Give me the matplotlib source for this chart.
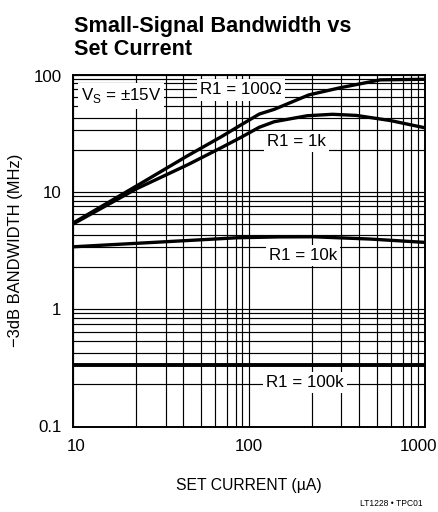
import matplotlib
matplotlib.use('Agg')
import matplotlib.pyplot as plt
from matplotlib import font_manager
from matplotlib.ticker import FixedLocator, FixedFormatter, NullFormatter
import matplotlib.transforms as mtransforms

# ---------------- data ----------------
set_current_r100 = [10, 23, 45, 70, 90, 115, 140, 220, 330, 560, 1000]
bw_r100 = [5.4, 11.2, 20.3, 29.5, 37, 46, 50.5, 67, 77, 90, 91]

set_current_r1k = [10, 23, 45, 70, 90, 115, 140, 215, 300, 410, 640, 1000]
bw_r1k = [5.3, 10.6, 17, 23.8, 29, 35.5, 39.6, 44.5, 45.8, 44.8, 40.5, 35.2]

set_current_r10k = [10, 23, 50, 86, 150, 233, 490, 1000]
bw_r10k = [3.4, 3.64, 3.88, 4.06, 4.13, 4.14, 3.96, 3.71]

set_current_r100k = [10, 1000]
bw_r100k = [0.335, 0.335]

series_labels = ['R1 = 100Ω', 'R1 = 1k', 'R1 = 10k', 'R1 = 100k']

x_ticks = [10, 100, 1000]
x_tick_labels = ['10', '100', '1000']
y_ticks = [0.1, 1, 10, 100]
y_tick_labels = ['0.1', '1', '10', '100']
# grid-line multipliers within each decade, as drawn in the reference
grid_steps = [2.29, 3.37, 4.26, 5.36, 6.41, 7.50, 8.43, 9.20]

# ---------------- fonts ----------------
names = {f.name for f in font_manager.fontManager.ttflist}
if 'Liberation Sans Narrow' in names:
    FAM = ['Liberation Sans Narrow', 'DejaVu Sans']
    k = 1.0
else:
    FAM = ['Liberation Sans', 'DejaVu Sans']
    k = 0.84
plt.rcParams['font.family'] = FAM
plt.rcParams['axes.unicode_minus'] = True

W, H = 438, 512
fig = plt.figure(figsize=(W / 100, H / 100), dpi=100)
L, R, T, B = 72.7, 424.5, 74.5, 426.5
ax = fig.add_axes([L / W, 1 - B / H, (R - L) / W, (B - T) / H])
ax.set_xscale('log')
ax.set_yscale('log')
ax.set_xlim(10, 1000)
ax.set_ylim(0.1, 100)

ax.xaxis.set_major_locator(FixedLocator(x_ticks))
ax.xaxis.set_major_formatter(FixedFormatter(x_tick_labels))
ax.xaxis.set_minor_locator(FixedLocator([d * m for d in (10, 100) for m in grid_steps]))
ax.xaxis.set_minor_formatter(NullFormatter())
ax.yaxis.set_major_locator(FixedLocator(y_ticks))
ax.yaxis.set_major_formatter(FixedFormatter(y_tick_labels))
ax.yaxis.set_minor_locator(FixedLocator([d * m for d in (0.1, 1, 10) for m in grid_steps]))
ax.yaxis.set_minor_formatter(NullFormatter())

ax.tick_params(which='both', length=0)
ax.tick_params(axis='x', pad=9, labelsize=14.5 * k)
ax.tick_params(axis='y', pad=8, labelsize=14.5 * k)
ax.set_axisbelow(True)
ax.grid(True, which='both', color='black', linewidth=0.85)
for s in ax.spines.values():
    s.set_linewidth(1.4)
    s.set_color('black')

# shift first/last x tick labels like the reference
xl = ax.get_xticklabels()
xl[0].set_transform(xl[0].get_transform() + mtransforms.ScaledTranslation(3 / 100, 0, fig.dpi_scale_trans))
xl[-1].set_transform(xl[-1].get_transform() + mtransforms.ScaledTranslation(-6 / 100, 0, fig.dpi_scale_trans))
yl = ax.get_yticklabels()
yl[-1].set_transform(yl[-1].get_transform() + mtransforms.ScaledTranslation(0, -2 / 100, fig.dpi_scale_trans))

lw = 2.4
ax.plot(set_current_r100, bw_r100, color='black', lw=lw, solid_capstyle='butt')
ax.plot(set_current_r1k, bw_r1k, color='black', lw=lw, solid_capstyle='butt')
ax.plot(set_current_r10k, bw_r10k, color='black', lw=lw, solid_capstyle='butt')
ax.plot(set_current_r100k, bw_r100k, color='black', lw=2.8, solid_capstyle='butt')

box = dict(facecolor='white', edgecolor='none', pad=2.2)
lab_fs = 14.5 * k
ax.text(0.137, 0.939, r'V$_\mathregular{S}$ = ±15V', transform=ax.transAxes,
        ha='center', va='center', fontsize=lab_fs, bbox=box, zorder=5)
label_pos = [(0.478, 0.956), (0.636, 0.810), (0.655, 0.487), (0.660, 0.125)]
for (xf, yf), lab in zip(label_pos, series_labels):
    ax.text(xf, yf, lab, transform=ax.transAxes, ha='center', va='center',
            fontsize=lab_fs, bbox=box, zorder=5)

ax.set_xlabel('SET CURRENT (µA)', fontsize=13.5 * k)
ax.xaxis.set_label_coords(0.5, -0.145)
ax.set_ylabel('\u22123dB BANDWIDTH (MHz)', fontsize=14.5 * 0.82 if k < 1 else 14.5)
ax.yaxis.set_label_coords(-0.141, 0.5)

tfs = 19 * 0.82 if k < 1 else 19
fig.text(74 / W, 1 - 31.7 / H, 'Small-Signal Bandwidth vs', fontsize=tfs,
         fontweight='bold', va='baseline', ha='left')
fig.text(74 / W, 1 - 55 / H, 'Set Current', fontsize=tfs,
         fontweight='bold', va='baseline', ha='left')
fig.text(423 / W, 1 - 504 / H, 'LT1228 • TPC01', fontsize=7.5 * 0.82 if k < 1 else 7.5,
         ha='right', va='center')

fig.savefig('out.png', dpi=100)
